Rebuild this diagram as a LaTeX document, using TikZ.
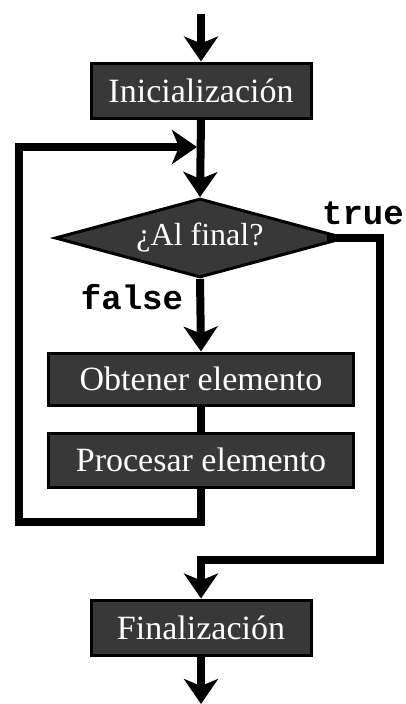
\documentclass[tikz,border=0pt]{standalone}
\usepackage{fontspec}
\setmainfont{Liberation Serif}
\newfontfamily\lblfont{Liberation Mono}
\usetikzlibrary{arrows.meta,shapes.geometric}
\tikzset{
  box/.style={draw=black, line width=3pt, fill=black!78, text=white, inner sep=0pt,
    font=\fontsize{34}{34}\selectfont},
  conn/.style={line width=8pt, draw=black, line join=miter},
  arr/.style={conn, -{Stealth[length=25pt,width=34pt,inset=7pt]}},
  lbl/.style={font=\lblfont\bfseries\fontsize{34}{34}\selectfont, inner sep=0pt}
}
\begin{document}
\begin{tikzpicture}[x=1pt,y=-1pt]
\useasboundingbox[fill=white] (0,0) rectangle (406,704);
\node[box, minimum width=220pt, minimum height=55pt] (ini) at (201,90.5) {Inicialización};
\node[box, diamond, minimum width=290pt, minimum height=79pt, shape aspect=3.6,
  font=\fontsize{32}{32}\selectfont] (dec) at (200,238) {¿Al final?};
\node[box, minimum width=305pt, minimum height=52pt] (obt) at (201,379) {Obtener elemento};
\node[box, minimum width=305pt, minimum height=54pt] (proc) at (201,460) {Procesar elemento};
\node[box, minimum width=220pt, minimum height=55pt] (fin) at (201,627.5) {Finalización};
\node[lbl] (ltrue) at (363,213) {true};
\node[lbl] (lfalse) at (132,297) {false};
\coordinate (start) at (201,14);
\coordinate (stop) at (201,704);
\coordinate (join) at (197,147);
\coordinate (lb) at (19,522);
\coordinate (lt) at (19,147);
\coordinate (rt) at (380,238);
\coordinate (rb) at (380,560);
\coordinate (mb) at (201,560);
\coordinate (pb) at (201,522);
\draw[arr] (start) -- (ini.north);
\draw[arr] (ini.south) -- (dec.north);
\draw[arr] (dec.south) -- (obt.north);
\draw[conn] (obt.south) -- (proc.north);
\draw[arr] (proc.south) -- (pb) -- (lb) -- (lt) -- (join);
\draw[arr] ([xshift=-20pt]dec.east) -- (rt) -- (rb) -- (mb) -- (fin.north);
\draw[arr] (fin.south) -- (stop);
\end{tikzpicture}
\end{document}
